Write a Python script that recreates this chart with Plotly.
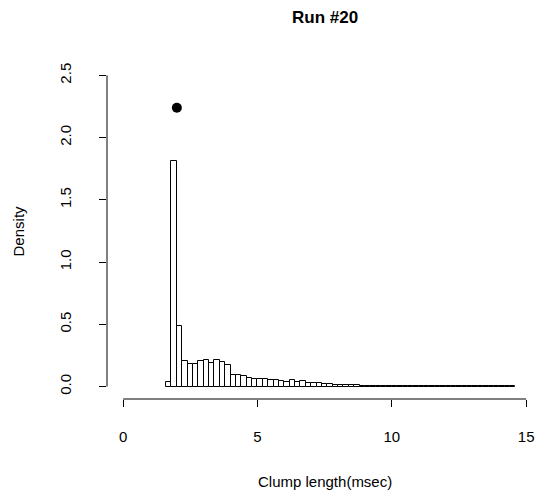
import plotly.graph_objects as go

# Histogram (density) of clump lengths, bin width 0.2 msec, breaks 1.6 .. 14.6
bin_start = 1.6
bin_width = 0.2
densities = [
    0.035, 1.81, 0.483, 0.203, 0.184, 0.180, 0.208, 0.214, 0.187, 0.214,
    0.200, 0.176, 0.096, 0.090, 0.083, 0.070, 0.062, 0.064, 0.059, 0.056,
    0.053, 0.045, 0.040, 0.050, 0.040, 0.048, 0.030, 0.028, 0.025, 0.020,
    0.022, 0.016, 0.014, 0.012, 0.010, 0.009, 0.008, 0.006, 0.008, 0.005,
    0.004, 0.004, 0.003, 0.003, 0.003, 0.002, 0.002, 0.002, 0.002, 0.002,
    0.002, 0.001, 0.002, 0.001, 0.001, 0.001, 0.001, 0.001, 0.001, 0.001,
    0.001, 0.001, 0.001, 0.001, 0.001,
]
bin_centers = [round(bin_start + bin_width * (i + 0.5), 3) for i in range(len(densities))]

point_x = [2.0]
point_y = [2.24]

x_ticks = [0, 5, 10, 15]
y_ticks = [0.0, 0.5, 1.0, 1.5, 2.0, 2.5]
y_tick_labels = ["0.0", "0.5", "1.0", "1.5", "2.0", "2.5"]

FONT = "Liberation Sans, Arial, Helvetica, sans-serif"

fig = go.Figure()
fig.add_trace(go.Bar(
    x=bin_centers, y=densities, width=bin_width,
    marker=dict(color="white", line=dict(color="black", width=1)),
    showlegend=False, hoverinfo="x+y",
))
fig.add_trace(go.Scatter(
    x=point_x, y=point_y, mode="markers",
    marker=dict(color="black", size=10), showlegend=False,
))

# R-style axis lines (only spanning the tick range)
fig.add_shape(type="line", xref="x", yref="paper", x0=0, x1=15, y0=0, y1=0,
              line=dict(color="black", width=1))
fig.add_shape(type="line", xref="paper", yref="y", x0=0, x1=0, y0=0, y1=2.5,
              line=dict(color="black", width=1))

fig.update_layout(
    width=538, height=497,
    margin=dict(l=106.6, r=0, t=62.5, b=97.5),
    paper_bgcolor="white", plot_bgcolor="white",
    bargap=0,
    font=dict(family=FONT, size=15, color="black"),
    xaxis=dict(range=[-0.6, 15.44], showgrid=False, zeroline=False, showline=False,
               tickmode="array", tickvals=x_ticks, ticks="outside", ticklen=7,
               tickcolor="black", tickwidth=1, ticklabelstandoff=17,
               tickfont=dict(size=15)),
    yaxis=dict(range=[-0.1, 2.6], showgrid=False, zeroline=False, showline=False,
               tickmode="array", tickvals=y_ticks, ticktext=y_tick_labels,
               ticks="outside", ticklen=7, tickcolor="black", tickwidth=1,
               tickangle=-90, ticklabelstandoff=22, tickfont=dict(size=15)),
    annotations=[
        dict(text="<b>Run #20</b>", xref="paper", yref="paper", x=0.505, y=1.135,
             showarrow=False, font=dict(size=17), xanchor="center", yanchor="middle"),
        dict(text="Clump length(msec)", xref="paper", yref="paper", x=0.505, y=-0.245,
             showarrow=False, font=dict(size=15), xanchor="center", yanchor="middle"),
        dict(text="Density", xref="paper", yref="paper", x=-0.2054, y=0.5,
             showarrow=False, font=dict(size=15), textangle=-90,
             xanchor="center", yanchor="middle"),
    ],
)

fig.write_html(
    "out.html",
    config={"displayModeBar": False},
    post_script="document.body.style.margin='0';document.body.style.overflow='hidden';",
)
